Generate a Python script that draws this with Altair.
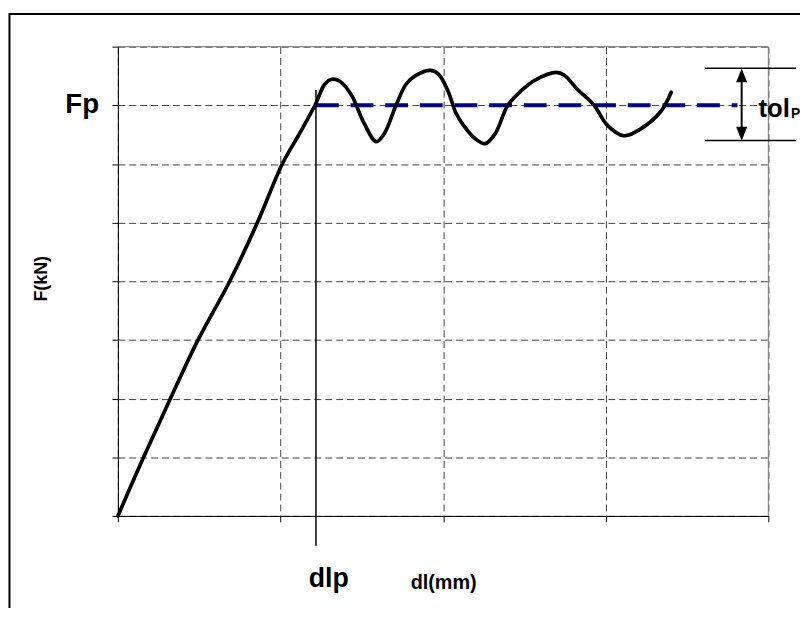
import altair as alt
import pandas as pd

# ---- data (axis units: x 0..4, y 0..8) ----
x_ticks = [0, 1, 2, 3, 4]
y_ticks = [0, 1, 2, 3, 4, 5, 6, 7, 8]

curve_x = [0.0, 0.158, 0.323, 0.493, 0.688, 0.858, 1.011, 1.120, 1.212, 1.272, 1.315,
           1.364, 1.437, 1.510, 1.589, 1.638, 1.711, 1.772, 1.833, 1.924, 1.973,
           2.033, 2.076, 2.119, 2.198, 2.259, 2.320, 2.399, 2.484, 2.563, 2.697,
           2.746, 2.825, 2.928, 3.008, 3.111, 3.215, 3.336, 3.403]
curve_y = [0.0, 1.0, 2.0, 3.0, 4.0, 5.0, 6.0, 6.532, 7.0, 7.359, 7.443,
           7.409, 7.173, 6.717, 6.380, 6.515, 7.004, 7.359, 7.511, 7.595, 7.527,
           7.224, 6.886, 6.684, 6.430, 6.346, 6.515, 7.004, 7.257, 7.426, 7.561,
           7.511, 7.274, 7.004, 6.667, 6.481, 6.599, 6.886, 7.224]

fp_value = 7.0
dlp_value = 1.218
fp_line_x = [1.218, 3.81]
dlp_line_y = [7.26, -0.51]
tol_y = [7.63, 6.40]
tol_x = [3.61, 4.17]
tol_arrow_x = 3.836
arrow_head_y = [7.511, 6.515]

labels_text = ["Fp", "dlp", "tol", "P"]
labels_x = [-0.219, 1.297, 3.939, 4.14]

FONT = "Liberation Sans"

xs = alt.Scale(domain=[0, 4], nice=False, zero=False)
ys = alt.Scale(domain=[0, 8], nice=False, zero=False)

x_axis = alt.Axis(values=x_ticks, labels=False, title="dl(mm)", titleY=73,
                  titleBaseline="alphabetic")
y_axis = alt.Axis(values=y_ticks, labels=False, title="F(kN)", titleX=-77, titleY=234,
                  titleAngle=-90, titleBaseline="middle", titleAlign="center")


def X(field="x"):
    return alt.X(f"{field}:Q", scale=xs, axis=x_axis)


def Y(field="y"):
    return alt.Y(f"{field}:Q", scale=ys, axis=y_axis)


curve_df = pd.DataFrame({"x": curve_x, "y": curve_y, "o": list(range(len(curve_x)))})

# outer chart frame
frame = alt.Chart(pd.DataFrame({"a": [0]})).mark_rect(
    fill=None, stroke="black", strokeWidth=2
).encode(x=alt.value(-109.5), x2=alt.value(800), y=alt.value(-33), y2=alt.value(800))

curve = alt.Chart(curve_df).mark_line(
    color="black", strokeWidth=3.7, interpolate="catmull-rom", strokeCap="round", strokeJoin="round"
).encode(x=X(), y=Y(), order="o:Q")

# gray plot border top & right
border_df = pd.DataFrame({"x": [0, 4], "x2": [4, 4], "y": [8, 0], "y2": [8, 8]})
border = alt.Chart(border_df).mark_rule(color="#808080", strokeWidth=1).encode(
    x=X(), x2="x2:Q", y=Y(), y2="y2:Q")

dlp_df = pd.DataFrame({"x": [dlp_value], "y": [dlp_line_y[0]], "y2": [dlp_line_y[1]]})
dlp_rule = alt.Chart(dlp_df).mark_rule(color="black", strokeWidth=1.5).encode(
    x=X(), y=Y(), y2="y2:Q")

fp_df = pd.DataFrame({"x": [fp_line_x[0]], "x2": [fp_line_x[1]], "y": [fp_value]})
fp_rule = alt.Chart(fp_df).mark_rule(color="#000080", strokeWidth=4, strokeDash=[23, 12]).encode(
    x=X(), x2="x2:Q", y=Y())

tol_df = pd.DataFrame({"x": [tol_x[0]] * 2, "x2": [tol_x[1]] * 2, "y": tol_y})
tol_rules = alt.Chart(tol_df).mark_rule(color="black", strokeWidth=1.5).encode(
    x=X(), x2="x2:Q", y=Y())

arrow_df = pd.DataFrame({"x": [tol_arrow_x], "y": [tol_y[0] - 0.1], "y2": [tol_y[1] + 0.1]})
arrow_line = alt.Chart(arrow_df).mark_rule(color="black", strokeWidth=2).encode(
    x=X(), y=Y(), y2="y2:Q")

head_up = alt.Chart(pd.DataFrame({"x": [tol_arrow_x], "y": [arrow_head_y[0]]})).mark_point(
    shape="M0,-1L0.8,1L-0.8,1Z", size=196, filled=True, color="black", opacity=1
).encode(x=X(), y=Y())
head_down = alt.Chart(pd.DataFrame({"x": [tol_arrow_x], "y": [arrow_head_y[1]]})).mark_point(
    shape="M0,1L0.8,-1L-0.8,-1Z", size=196, filled=True, color="black", opacity=1
).encode(x=X(), y=Y())

fp_text = alt.Chart(pd.DataFrame({"t": [labels_text[0]], "x": [labels_x[0]], "y": [fp_value]})).mark_text(
    font=FONT, fontSize=28, fontWeight="bold", color="black", align="center", baseline="alphabetic", dy=8
).encode(x=X(), y=Y(), text="t:N")

dlp_text = alt.Chart(pd.DataFrame({"t": [labels_text[1]], "x": [labels_x[1]], "y": [-1.215]})).mark_text(
    font=FONT, fontSize=27, fontWeight="bold", color="black", align="center", baseline="alphabetic"
).encode(x=X(), y=Y(), text="t:N")

tol_text = alt.Chart(pd.DataFrame({"t": [labels_text[2]], "x": [labels_x[2]], "y": [fp_value]})).mark_text(
    font=FONT, fontSize=26, fontWeight="bold", color="black", align="left", baseline="alphabetic", dy=12
).encode(x=X(), y=Y(), text="t:N")

tol_sub = alt.Chart(pd.DataFrame({"t": [labels_text[3]], "x": [labels_x[3]], "y": [fp_value]})).mark_text(
    font=FONT, fontSize=14, fontWeight="bold", color="black", align="left", baseline="alphabetic", dy=13
).encode(x=X(), y=Y(), text="t:N")

chart = alt.layer(
    frame, border, dlp_rule, fp_rule, curve, tol_rules, arrow_line,
    head_up, head_down, fp_text, dlp_text, tol_text, tol_sub
).properties(
    width=657, height=474,
    autosize=alt.AutoSizeParams(type="none"),
    padding={"left": 111, "top": 36, "right": 32, "bottom": 90},
    background="white",
).configure_view(stroke=None).configure(font=FONT).configure_axis(
    tickSize=6, tickColor="black", domainColor="black", domainWidth=1,
    grid=True, gridColor="#404040", gridDash=[7, 4], gridWidth=1,
    titleFont=FONT, titleFontWeight="bold", titleColor="black",
).configure_axisX(titleFontSize=20).configure_axisY(titleFontSize=18)

chart.save("out.html", embed_options={"renderer": "svg", "actions": False})
